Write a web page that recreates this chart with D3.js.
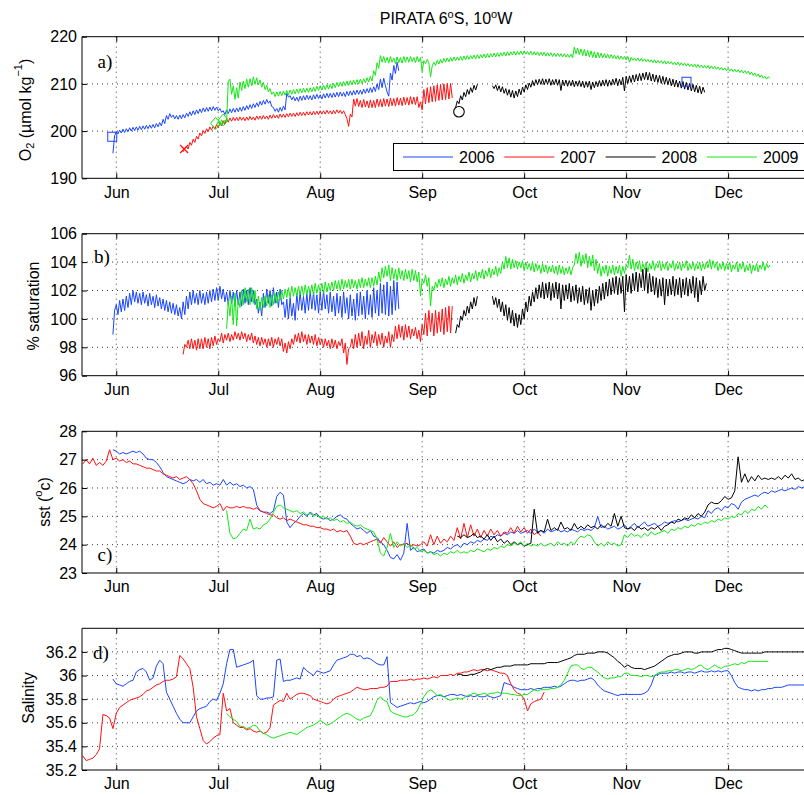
<!DOCTYPE html>
<html>
<head>
<meta charset="utf-8">
<script src="https://cdn.jsdelivr.net/npm/d3@7"></script>
<style>
  body { margin: 0; background: #fff; }
  svg { display: block; }
</style>
</head>
<body>
<svg id="chart" width="804" height="795"></svg>
<script>
// ---------------------------------------------------------------
// PIRATA 6°S, 10°W mooring: O2, O2 saturation, SST and salinity
// Time axis: days counted from 1 June; month ticks every 30.5 days
// ---------------------------------------------------------------
const years = ["2006", "2007", "2008", "2009"];
const monthTickDays = [0, 30.5, 61, 91.5, 122, 152.5, 183];
const monthLabels = ["Jun", "Jul", "Aug", "Sep", "Oct", "Nov", "Dec"];

const o2Ticks = [190, 200, 210, 220];
const satTicks = [96, 98, 100, 102, 104, 106];
const sstTicks = [23, 24, 25, 26, 27, 28];
const salTicks = [35.2, 35.4, 35.6, 35.8, 36, 36.2];

// ---- a) dissolved oxygen (µmol/kg), half-day samples ----
const o2Start = [-1, 20, 101.5, 30];
const o2_2006 = [
  195.3,199.0, 199.9,199.4, 200.2,199.6, 200.4,199.7, 200.5,199.9, 200.7,200.0, 200.8,200.1, 200.9,200.2, 201.0,200.3, 201.1,200.4,
  201.2,200.5, 201.3,200.6, 201.4,200.7, 201.6,200.9, 201.8,201.1, 202.5,201.6, 203.3,202.5, 203.7,202.9, 203.4,202.6, 203.3,202.5,
  203.4,202.6, 203.5,202.8, 203.8,203.1, 204.1,203.3, 204.3,203.5, 204.5,203.7, 204.7,203.9, 204.9,204.1, 205.0,204.2, 205.1,204.3,
  205.2,204.4, 205.1,204.3, 204.8,204.0, 204.3,203.5, 204.5,203.7, 204.7,203.9, 204.8,204.0, 204.9,204.1, 205.0,204.2, 205.2,204.4,
  205.4,204.6, 205.6,204.8, 205.8,205.0, 206.0,205.2, 206.3,205.5, 206.5,205.7, 206.7,205.9, 206.4,205.2, 205.0,204.2, 204.8,204.0,
  205.0,204.2, 205.3,204.5, 208.0,207.2, 207.5,206.6, 207.3,206.4, 207.2,206.3, 207.4,206.5, 207.5,206.6, 207.6,206.7, 207.5,206.6,
  207.7,206.8, 207.8,206.9, 207.7,206.8, 207.9,207.0, 208.0,207.1, 208.0,207.1, 208.1,207.2, 208.2,207.3, 208.3,207.4, 208.2,207.3,
  208.4,207.5, 208.5,207.6, 208.6,207.7, 208.7,207.8, 208.7,207.8, 208.9,208.0, 209.0,208.1, 209.2,208.2, 209.4,208.4, 210.0,208.8,
  211.0,209.2, 211.2,209.6, 208.3,207.4, 212.3,210.8, 213.9,212.2, 214.6,212.8
];
const o2_2007 = [
  195.6,196.3, 196.8,196.2, 197.6,197.0, 198.3,197.6, 198.9,198.3, 199.6,199.0, 200.1,199.5, 200.5,199.9, 200.9,200.2, 201.1,200.4,
  201.4,200.7, 201.8,201.1, 202.2,201.5, 202.6,201.9, 202.8,202.1, 202.9,202.2, 202.9,202.2, 203.0,202.3, 202.9,202.2, 203.0,202.3,
  203.1,202.4, 203.0,202.3, 203.2,202.5, 203.2,202.5, 203.3,202.6, 203.2,202.5, 203.4,202.7, 203.5,202.8, 203.4,202.7, 203.6,202.9,
  203.6,202.9, 203.7,203.0, 203.8,203.1, 203.8,203.1, 203.9,203.2, 204.0,203.3, 204.0,203.3, 204.1,203.4, 204.1,203.4, 204.2,203.5,
  204.2,203.5, 204.3,203.6, 204.3,203.6, 204.4,203.7, 204.3,203.6, 204.4,203.7, 204.5,203.8, 204.4,203.7, 204.3,203.5, 202.6,201.0,
  203.6,203.0, 206.8,205.3, 206.9,205.2, 206.5,205.0, 206.7,205.1, 206.4,204.9, 206.6,205.0, 206.5,205.0, 206.8,205.2, 206.7,205.1,
  206.9,205.3, 206.8,205.2, 207.0,205.4, 206.9,205.3, 207.1,205.5, 207.0,205.4, 207.2,205.6, 207.1,205.5, 207.3,205.7, 207.2,205.6,
  207.3,205.0, 206.2,204.5, 208.8,205.8, 209.2,206.0, 209.4,206.2, 209.6,206.3, 209.8,206.5, 209.9,206.6, 210.0,206.7, 210.1,206.8,
  210.1,207.0
];
const o2_2008 = [
  205.0, 206.4,205.8, 207.5,206.6, 208.2,207.3, 208.8,207.8, 209.2,208.2, 209.7,208.7, 209.9,
  null,null,null,null,null,null,null,null,
  209.6,
  209.0,209.8, 208.6,209.6, 208.3,209.4, 208.0,209.0, 207.6,208.8, 207.2,208.6, 207.0,208.5, 207.3,208.9, 207.7,209.3, 208.3,209.8,
  208.8,210.2, 209.3,210.7, 209.6,210.9, 209.8,211.0, 209.9,211.1, 209.8,211.0, 209.9,211.1, 209.7,210.9, 209.8,211.0, 209.7,210.9,
  208.6,210.8, 209.6,210.8, 209.5,210.7, 209.6,210.8, 209.4,210.6, 209.5,210.7, 209.4,210.6, 209.2,210.5, 209.3,210.6, 208.8,210.4,
  209.2,210.5, 209.4,210.7, 209.5,210.8, 209.6,210.9, 209.5,210.8, 209.7,211.0, 209.8,211.2, 209.6,211.0, 209.8,211.4, 208.5,211.6,
  210.1,211.7, 210.3,211.9, 210.4,212.0, 210.6,212.2, 210.7,212.3, 210.9,212.5, 210.8,212.4, 210.6,212.1, 210.4,211.9, 210.3,211.8,
  210.1,211.6, 209.9,211.4, 209.8,211.2, 209.6,211.0, 209.4,210.8, 209.3,210.6, 209.1,210.5, 208.9,210.3, 208.7,210.1, 208.5,209.9,
  208.3,209.7, 208.1,209.5, 207.9,209.3, 208.2
];
const o2_2009 = [
  201.3,202.0, 201.2,202.4, 201.6,202.3, 202.0,210.6, 211.0,207.8, 209.6,206.7, 209.2,207.0, 210.4,208.6, 210.6,209.0, 211.0,209.3,
  211.1,209.6, 211.5,209.9, 211.3,209.8, 210.8,209.3, 210.3,208.8, 209.7,208.3, 209.0,207.8, 208.3,207.3, 208.3,207.4, 208.4,207.5,
  208.5,207.6, 208.6,207.7, 208.7,207.8, 208.8,207.9, 208.9,208.0, 209.0,208.1, 209.1,208.2, 209.1,208.2, 209.2,208.3, 209.3,208.4,
  209.5,208.6, 209.6,208.7, 209.7,208.8, 209.8,208.9, 209.9,209.0, 210.1,209.2, 210.3,209.4, 210.4,209.5, 210.5,209.6, 210.6,209.7,
  210.7,209.8, 210.8,209.9, 210.9,210.0, 211.0,210.1, 211.1,210.2, 211.3,210.4, 211.6,210.6, 212.8,211.8, 214.5,213.3, 216.0,214.6,
  215.8,214.5, 215.6,214.4, 215.8,214.6, 215.5,214.3, 215.7,214.5, 215.6,214.4, 215.8,214.6, 215.7,214.6, 215.8,214.7, 215.6,214.5,
  215.8,214.7, 215.6,212.6, 214.9,214.3, 215.2,214.4, 211.5,213.8, 214.6,213.9, 215.0,214.2, 215.2,214.4, 215.4,214.6, 215.5,214.7,
  215.6,214.8, 215.7,214.9, 215.7,215.0, 215.8,215.0, 215.9,215.1, 216.0,215.2, 216.0,215.3, 216.1,215.3, 216.2,215.4, 216.2,215.5,
  216.3,215.5, 216.4,215.6, 216.4,215.7, 216.5,215.7, 216.6,215.8, 216.6,215.9, 216.7,215.9, 216.8,216.0, 216.8,216.1, 216.9,216.1,
  216.9,216.2, 217.0,216.2, 217.0,216.3, 216.9,216.2, 216.9,216.1, 216.8,216.1, 216.8,216.0, 216.7,216.0, 216.7,215.9, 216.6,215.9,
  216.6,215.8, 216.5,215.8, 216.5,215.8, 216.4,215.7, 216.4,215.7, 216.3,215.6, 216.3,215.5, 217.8,216.4, 217.6,216.2, 217.4,216.0,
  217.3,215.9, 217.1,215.7, 217.0,215.6, 216.8,215.5, 216.7,215.5, 216.5,215.5, 216.4,215.5, 216.3,215.4, 216.2,215.4, 216.1,215.3,
  216.0,215.2, 215.9,215.2, 215.8,215.1, 215.8,214.6, 215.6,215.0, 215.5,214.9, 215.5,214.8, 215.4,214.8, 215.3,214.7, 215.2,214.6,
  215.1,214.5, 215.1,214.4, 215.0,214.4, 214.9,214.3, 214.9,214.2, 214.8,214.2, 214.7,214.1, 214.6,214.0, 214.6,213.9, 214.5,213.9,
  214.4,213.8, 214.3,213.7, 214.2,213.6, 214.2,213.5, 214.1,213.5, 214.0,213.4, 213.9,213.3, 213.9,213.2, 213.8,213.2, 213.7,213.1,
  213.6,213.0, 213.5,212.9, 213.4,212.8, 213.3,212.7, 213.2,212.6, 213.1,212.5, 213.0,212.4, 212.9,212.3, 212.8,212.2, 212.7,212.0,
  212.5,211.8, 212.3,211.6, 212.1,211.4, 211.9,211.2, 211.6,211.0, 211.5,211.2
];

// Calibration samples drawn as markers on panel a)
const markerDays   = [-1.2, 20.3, 29.7, 32.0, 102.5, 170.55];
const markerValues = [198.8, 196.2, 201.65, 202.35, 204.1, 210.45];
const markerYear   = [0, 1, 3, 3, 2, 0];
const markerShape  = ["square", "cross", "diamond", "diamond", "circle", "square"];

// ---- b) oxygen saturation (%), half-day samples ----
const satStart = [-1, 20, 101.5, 33];
const sat_2006 = [
  98.9,100.6, 101.0,100.3, 101.3,100.5, 101.4,100.6, 101.6,100.8, 101.8,101.0, 102.0,101.2, 101.9,101.1, 101.8,101.0, 101.9,101.1,
  101.7,100.9, 101.8,101.0, 101.6,100.8, 101.7,100.9, 101.5,100.7, 101.4,100.6, 101.3,100.5, 101.2,100.4, 101.1,100.3, 101.0,100.2,
  100.8,100.0, 101.2,100.3, 101.6,100.7, 101.9,101.0, 102.0,101.1, 101.8,101.0, 102.0,101.1, 101.8,101.0, 101.9,101.1, 102.0,101.2,
  102.1,101.3, 102.2,101.3, 102.3,101.4, 102.1,101.2, 101.9,101.0, 102.0,101.1, 101.9,100.9, 102.0,101.0, 101.9,100.9, 102.1,101.1,
  102.0,101.0, 102.2,101.2, 102.0,101.0, 101.4,100.4, 101.2,100.2, 101.8,100.8, 102.1,101.1, 102.0,100.9, 102.2,101.1, 101.9,100.8,
  102.1,101.0, 101.2,100.1, 101.4,100.0, 101.5,100.2, 101.1,99.9, 101.8,100.6, 101.9,100.6, 101.6,100.4, 101.8,100.6, 102.0,100.7,
  101.9,100.6, 101.7,100.4, 101.9,100.6, 102.0,100.7, 101.7,100.4, 101.9,100.5, 101.6,100.2, 101.8,100.4, 101.6,100.1, 101.9,100.4,
  101.5,100.0, 101.7,100.2, 101.4,99.9, 101.8,100.2, 101.9,100.3, 101.6,100.0, 102.0,100.3, 101.7,100.1, 102.2,100.4, 102.0,100.2,
  102.5,100.4, 102.4,100.3, 102.6,100.2, 102.3,100.3, 102.7,100.6, 102.6,100.7
];
const sat_2007 = [
  97.5,98.2, 98.0,98.5, 97.9,98.6, 97.9,98.5, 97.8,98.6, 97.9,98.6, 97.9,98.7, 98.0,98.6, 97.9,98.7, 98.1,98.8,
  98.2,98.6, 98.4,99.0, 98.3,98.9, 98.5,99.0, 98.4,98.9, 98.5,99.1, 98.6,99.0, 98.5,99.1, 98.6,99.0, 98.4,98.9,
  98.5,99.0, 98.3,98.8, 98.2,98.7, 98.1,98.7, 98.2,98.6, 98.0,98.6, 98.1,98.7, 98.0,98.6, 98.2,98.7, 98.1,98.6,
  97.7,98.3, 97.6,98.4, 97.9,98.6, 98.2,98.9, 98.4,99.0, 98.3,99.1, 98.4,98.9, 98.2,98.9, 98.3,98.8, 98.2,98.9,
  98.1,98.7, 98.2,98.6, 98.0,98.6, 98.1,98.5, 97.9,98.6, 98.0,98.5, 97.9,98.4, 98.1,98.6, 97.6,98.3, 96.8,97.9,
  98.0,98.6, 97.9,98.9, 98.0,99.0, 98.1,99.1, 97.9,98.8, 98.2,99.2, 98.0,98.9, 98.3,99.1, 98.1,98.9, 98.2,99.0,
  98.0,98.8, 98.3,99.1, 98.0,98.9, 98.4,99.5, 98.6,99.6, 98.7,99.5, 98.5,99.6, 98.7,99.5, 98.6,99.3, 98.8,99.4,
  98.6,99.2, 98.4,99.6, 98.9,100.4, 98.8,100.6, 99.1,100.4, 98.8,100.6, 99.0,100.5, 99.1,100.7, 98.9,100.8, 99.1,100.9,
  99.0,100.9
];
const sat_2008 = [
  99.0, 99.6,99.4, 100.2,99.9, 100.6,100.2, 100.9,100.4, 101.2,100.7, 101.5,100.9, 101.6,
  null,null,null,null,null,null,null,null,
  101.6,
  101.0,101.5, 100.8,101.4, 100.5,101.2, 100.2,101.0, 99.9,100.8, 99.7,100.6, 99.5,100.4, 99.4,100.3, 99.6,100.7, 100.0,101.2,
  100.5,101.6, 100.9,101.9, 101.2,102.2, 101.4,102.4, 101.5,102.6, 101.4,102.5, 101.5,102.6, 101.3,102.5, 101.5,102.6, 101.4,102.5,
  100.7,102.4, 101.3,102.4, 101.4,102.5, 101.2,102.3, 101.3,102.4, 101.1,102.2, 101.2,102.3, 101.0,102.1, 101.1,102.2, 100.6,102.0,
  100.9,102.1, 101.1,102.3, 101.3,102.5, 101.4,102.6, 101.6,102.8, 101.7,102.9, 101.8,103.0, 101.7,102.9, 101.8,103.0, 100.5,103.1,
  101.9,103.0, 101.8,103.2, 102.0,103.3, 101.9,103.2, 102.2,103.5, 102.0,103.6, 101.8,103.2, 101.9,103.0, 101.7,102.9, 101.5,102.8,
  101.6,102.9, 101.0,102.8, 101.6,102.8, 101.7,103.0, 101.6,102.8, 101.7,102.9, 101.5,102.8, 101.7,102.9, 101.6,102.8, 101.8,103.0,
  101.5,102.9, 101.2,102.7, 101.7,103.0, 102.0,102.5
];
const sat_2009 = [
  99.3,101.3, 100.2,101.6, 99.6,101.8, 99.5,101.4, 100.8,102.0, 101.0,102.2, 101.2,102.1, 101.0,102.2, 101.1,102.0, 100.7,101.6,
  100.6,101.5, 100.8,101.6, 100.9,101.7, 100.8,101.7, 101.0,101.8, 101.1,101.9, 101.3,102.0, 101.4,102.1, 101.5,102.2, 101.5,102.3,
  101.6,102.2, 101.6,102.3, 101.7,102.3, 101.6,102.4, 101.7,102.3, 101.8,102.4, 101.7,102.5, 101.8,102.4, 101.9,102.5, 101.8,102.6,
  101.9,102.5, 102.0,102.6, 102.0,102.7, 102.1,102.7, 102.0,102.8, 102.1,102.7, 102.2,102.8, 102.1,102.8, 102.2,102.7, 102.1,102.8,
  102.2,102.9, 102.2,102.8, 102.3,102.9, 102.2,102.9, 102.3,103.0, 102.4,103.3, 102.6,103.6, 102.9,103.7, 103.0,103.8, 102.7,103.6,
  102.8,103.5, 102.7,103.6, 102.8,103.4, 102.7,103.5, 102.8,103.4, 102.6,103.5, 102.7,103.4, 102.6,103.3, 101.6,102.8, 102.5,103.1,
  102.3,102.9, 100.9,102.3, 102.0,102.6, 102.2,102.8, 102.3,102.9, 102.2,102.8, 102.4,103.0, 102.3,102.9, 102.5,103.1, 102.4,103.0,
  102.6,103.2, 102.5,103.1, 102.7,103.3, 102.6,103.2, 102.8,103.4, 102.7,103.3, 102.9,103.5, 102.8,103.4, 103.0,103.6, 102.9,103.5,
  103.1,103.7, 103.0,103.6, 103.2,104.0, 103.5,104.4, 103.6,104.3, 103.5,104.2, 103.6,104.1, 103.5,104.0, 103.6,104.1, 103.4,104.0,
  103.5,103.9, 103.4,104.0, 103.3,103.9, 103.4,103.8, 103.2,103.9, 103.3,103.8, 103.2,103.7, 103.3,103.8, 103.2,103.7, 103.1,103.8,
  103.2,103.7, 103.1,103.6, 103.2,103.7, 103.1,103.6, 103.8,104.6, 103.9,104.7, 103.7,104.5, 103.9,104.6, 103.6,104.4, 103.7,104.5,
  103.4,104.2, 103.2,103.9, 103.0,103.7, 103.2,103.8, 103.0,103.7, 103.2,103.8, 103.1,103.7, 103.2,103.8, 103.0,103.7, 103.2,103.8,
  103.6,104.5, 103.5,104.2, 103.4,104.0, 103.5,104.1, 103.3,103.9, 103.5,104.0, 103.3,103.9, 103.5,104.1, 103.4,103.9, 103.6,104.1,
  103.4,103.9, 103.5,104.0, 103.4,103.9, 103.6,104.1, 103.4,103.9, 103.5,104.0, 103.4,103.9, 103.6,104.1, 103.4,103.9, 103.5,104.0,
  103.4,103.9, 103.5,104.0, 103.4,103.9, 103.5,104.0, 103.6,104.2, 103.5,104.1, 103.6,104.0, 103.4,103.9, 103.5,104.0, 103.4,103.9,
  103.5,104.0, 103.3,103.8, 103.5,104.0, 103.3,103.9, 103.5,104.0, 103.3,103.8, 103.4,103.9, 103.2,103.8, 103.4,103.9, 103.3,103.8,
  103.5,104.0, 103.4,103.9, 103.6,103.8
];

// ---- c) sea surface temperature (°C), daily samples ----
const sstStart = [-1, -10, 102, 33];
const sst_2006 = [
  27.35,
  27.3,27.2,27.25,27.2,27.25,27.3,27.25,27.3,27.2,27.05,
  27.0,27.0,26.9,26.75,26.55,26.4,26.35,26.3,26.25,26.2,
  26.15,26.2,26.3,26.25,26.3,26.2,26.3,26.15,26.2,26.1,
  26.15,26.1,26.3,26.1,26.2,26.1,26.15,26.05,26.1,26.0,
  26.05,25.95,25.4,25.2,25.15,25.15,25.1,25.2,25.7,25.85,
  25.75,24.8,24.6,24.75,24.85,25.0,25.1,25.0,25.15,25.05,
  25.1,24.95,24.9,24.95,24.85,24.9,25.0,25.05,24.95,24.9,
  24.75,24.65,24.55,24.6,24.5,24.4,24.5,24.3,24.25,24.1,
  24.0,23.8,23.55,23.5,23.65,23.45,23.7,24.75,23.8,23.9,
  23.75,23.8,23.85,23.7,23.75,23.7,23.8,23.75,23.8,23.9,
  23.85,23.95,24.0,23.9,24.05,24.0,24.1,24.05,24.15,24.1,
  24.2,24.15,24.3,24.25,24.35,24.3,24.4,24.35,24.45,24.4,
  24.5,24.4,24.45,24.5,24.4,24.55,24.45,24.5,24.4,24.55,
  24.45,24.5,24.55,24.45,24.5,24.45,24.55,24.5,24.45,24.55,
  24.5,24.55,24.5,24.6,25.0,24.6,24.65,24.55,24.6,24.65,
  24.55,24.6,24.7,24.55,24.65,24.75,24.6,24.7,24.8,24.65,
  24.7,24.75,24.65,24.7,24.8,24.75,24.8,24.85,24.8,24.85,
  24.9,24.85,24.9,24.95,24.9,25.0,24.95,25.2,25.1,25.25,
  25.3,25.2,25.35,25.3,25.45,25.4,25.25,25.5,25.6,25.65,
  25.7,25.75,25.7,25.8,25.85,25.8,25.9,25.85,25.9,25.95,
  25.9,25.95,26.0,25.95,26.05,26.0,26.05
];
const sst_2007 = [
  26.85,27.0,26.85,27.05,26.8,26.9,26.8,26.95,27.35,27.0,
  27.05,26.95,27.0,26.9,26.95,26.85,26.85,26.8,26.75,26.7,
  26.7,26.65,26.6,26.6,26.5,26.45,26.4,26.35,26.4,26.3,
  26.35,26.4,26.3,26.15,25.9,25.6,25.45,25.4,25.35,25.3,
  25.35,25.45,25.2,25.35,25.3,25.3,25.35,25.3,25.35,25.3,
  25.3,25.25,25.3,25.2,25.15,25.1,25.05,25.05,24.95,24.9,
  24.95,24.85,24.9,24.85,24.8,24.75,24.7,24.7,24.65,24.65,
  24.6,24.6,24.55,24.55,24.5,24.55,24.45,24.5,24.45,24.5,
  24.3,24.05,24.0,24.05,24.0,24.05,24.1,24.15,24.2,24.05,
  24.25,24.1,23.95,24.1,23.9,24.0,24.0,24.05,23.95,24.0,
  23.95,24.0,24.1,23.95,24.35,24.0,24.3,24.05,24.2,24.1,
  24.3,24.15,24.6,24.2,24.75,24.25,24.7,24.3,24.55,24.25,
  24.5,24.3,24.55,24.35,24.5,24.3,24.45,24.4,24.6,24.4,
  24.65,24.45,24.6,24.4,24.55,24.35,24.45,24.3
];
const sst_2008 = [
  24.3,24.25,24.35,24.25,24.3,24.4,24.25,24.3,
  24.2,24.35,24.15,24.3,24.1,24.2,24.05,24.15,24.0,24.1,
  24.0,24.05,23.95,24.0,24.05,25.25,24.4,24.5,24.45,24.9,
  24.5,24.6,24.5,24.8,24.55,24.6,24.5,24.75,24.55,24.65,
  24.55,24.7,24.6,24.65,24.55,24.7,24.6,24.75,24.65,25.1,
  24.65,25.0,24.6,24.55,24.6,24.5,24.65,24.55,24.6,24.5,
  24.6,24.55,24.65,24.5,24.65,24.7,24.8,24.75,24.9,24.85,
  24.95,24.9,25.05,24.95,25.1,25.0,25.15,25.4,25.5,25.45,
  25.45,25.55,25.7,25.6,25.65,25.9,27.1,26.2,26.5,26.2,
  26.4,26.25,26.45,26.3,26.35,26.3,26.35,26.3,26.4,26.3,
  26.45,26.35,26.5,26.3,26.35,26.25,26.3
];
const sst_2009 = [
  25.2,24.4,24.2,24.25,24.4,24.55,24.5,
  24.9,24.55,24.6,24.55,24.7,24.75,24.9,25.15,25.35,25.4,
  25.3,25.25,25.2,25.15,25.2,25.1,25.15,25.05,25.1,25.0,
  25.05,24.95,25.0,24.9,24.95,24.85,24.9,24.8,24.85,24.75,
  24.8,24.7,24.65,24.7,24.6,24.55,24.5,24.45,24.2,23.7,
  23.6,23.9,24.4,23.9,24.1,23.95,24.05,23.9,24.0,23.85,
  23.9,23.75,23.8,23.7,23.75,23.65,23.7,23.6,23.7,23.65,
  23.75,23.7,23.8,23.7,23.75,23.7,23.8,23.75,23.85,23.8,
  23.75,23.85,23.8,23.9,23.85,23.95,23.9,24.0,23.95,24.05,
  24.0,24.1,23.95,24.05,23.95,24.0,23.95,24.05,23.95,24.0,
  24.05,23.95,24.1,24.0,24.05,23.95,24.1,24.0,24.2,24.3,
  24.25,24.35,24.3,24.1,23.95,24.05,23.95,24.1,24.0,24.05,
  23.95,24.0,24.35,24.25,24.4,24.3,24.35,24.25,24.4,24.3,
  24.45,24.35,24.4,24.45,24.5,24.4,24.55,24.5,24.6,24.55,
  24.65,24.6,24.7,24.65,24.75,24.7,24.8,24.75,24.85,24.8,
  24.9,24.85,24.95,24.9,25.0,24.95,25.1,25.05,25.2,25.1,
  25.25,25.2,25.35,25.25,25.4,25.3
];

// ---- d) salinity, daily samples ----
const salStart = [-1, -10, 102, 33];
const sal_2006 = [
  35.97,
  35.93,35.92,35.91,35.93,35.95,35.96,36.03,36.05,36.06,36.03,
  35.96,35.98,36.08,36.13,36.1,35.86,35.8,35.74,35.68,35.63,
  35.6,35.6,35.6,35.65,35.7,35.72,35.73,35.74,35.78,35.8,
  35.79,35.85,35.93,36.1,36.22,36.22,36.07,36.08,36.09,36.1,
  36.11,36.13,35.83,35.8,35.8,35.81,35.81,35.82,36.13,36.14,
  35.95,35.96,35.96,35.97,35.98,35.97,36.07,36.04,36.02,36.0,
  36.04,36.03,36.02,36.03,36.04,36.09,36.13,36.14,36.15,36.16,
  36.18,36.18,36.16,36.17,36.14,36.15,36.14,36.12,36.1,36.09,
  36.09,36.16,35.77,35.75,35.73,35.74,35.75,35.76,35.77,35.76,
  35.77,35.78,35.77,35.78,35.8,35.82,35.83,35.83,35.82,35.83,
  35.84,35.84,35.83,35.84,35.83,35.82,35.83,35.82,35.83,35.82,
  35.82,35.83,35.82,35.81,35.82,35.83,35.94,35.93,35.92,35.9,
  35.89,35.88,35.88,35.88,35.89,35.88,35.89,35.89,35.9,35.9,
  35.9,35.91,35.9,35.91,35.93,35.95,35.96,35.96,35.95,35.96,
  35.96,35.97,35.98,35.96,35.92,35.89,35.87,35.86,35.85,35.84,
  35.83,35.84,35.84,35.84,35.84,35.84,35.84,35.84,35.85,35.87,
  35.92,36.0,36.01,36.02,36.02,36.02,36.03,36.02,36.03,36.03,
  36.02,36.03,36.03,36.02,36.03,36.04,36.03,36.03,36.04,36.03,
  36.04,36.03,36.04,36.04,36.0,35.94,35.9,35.89,35.88,35.88,
  35.87,35.88,35.87,35.88,35.88,35.89,35.89,35.9,35.9,35.9,
  35.91,35.92,35.92,35.92,35.92,35.92,35.92
];
const sal_2007 = [
  35.32,35.28,35.29,35.3,35.33,35.38,35.67,35.66,35.64,35.55,
  35.68,35.73,35.75,35.77,35.79,35.8,35.81,35.82,35.84,35.87,
  35.88,35.9,35.92,35.93,35.95,35.96,35.96,35.97,35.99,36.17,
  36.14,36.1,36.06,35.9,35.65,35.55,35.45,35.42,35.44,35.47,
  35.49,35.5,35.85,35.7,35.72,35.6,35.58,35.56,35.56,35.54,
  35.55,35.53,35.52,35.53,35.51,35.52,35.56,35.75,35.77,35.79,
  35.78,35.85,35.8,35.82,35.84,35.85,35.85,35.84,35.83,35.8,
  35.79,35.78,35.77,35.76,35.77,35.8,35.82,35.83,35.84,35.85,
  35.86,35.88,35.9,35.89,35.88,35.88,35.89,35.89,35.89,35.9,
  35.9,35.91,35.95,35.95,35.95,35.96,35.96,35.96,35.97,35.96,
  35.97,35.97,35.98,35.97,35.98,35.99,35.98,36.0,36.0,36.0,
  36.01,36.0,36.02,36.02,36.03,36.03,36.04,36.05,36.04,36.05,
  36.05,36.04,36.05,36.04,36.03,36.02,36.02,36.0,35.93,35.88,
  35.85,35.84,35.8,35.7,35.76,35.78,35.79,35.8,35.86
];
const sal_2008 = [
  36.01,36.01,36.0,36.0,36.01,36.01,36.02,36.03,
  36.05,36.06,36.05,36.06,36.07,36.07,36.08,36.08,36.08,36.09,
  36.09,36.09,36.09,36.09,36.1,36.1,36.1,36.1,36.1,36.11,
  36.11,36.11,36.11,36.12,36.13,36.14,36.15,36.17,36.18,36.18,
  36.18,36.19,36.19,36.19,36.2,36.2,36.2,36.19,36.17,36.15,
  36.12,36.1,36.07,36.09,36.07,36.06,36.06,36.06,36.05,36.06,
  36.07,36.08,36.1,36.12,36.14,36.16,36.17,36.18,36.18,36.19,
  36.2,36.2,36.2,36.19,36.19,36.2,36.2,36.2,36.2,36.21,
  36.22,36.22,36.23,36.23,36.22,36.21,36.2,36.19,36.19,36.19,
  36.19,36.19,36.19,36.19,36.2,36.2,36.2,36.2,36.2,36.2,
  36.2,36.2,36.2,36.2,36.2,36.2,36.2
];
const sal_2009 = [
  35.68,35.65,35.63,35.61,35.57,35.57,35.55,
  35.56,35.58,35.57,35.53,35.51,35.5,35.48,35.47,35.48,35.49,
  35.5,35.51,35.52,35.51,35.5,35.52,35.54,35.56,35.57,35.58,
  35.6,35.62,35.6,35.58,35.59,35.61,35.63,35.65,35.67,35.68,
  35.67,35.65,35.63,35.62,35.64,35.65,35.66,35.72,35.79,35.82,
  35.79,35.78,35.7,35.68,35.67,35.66,35.65,35.65,35.66,35.67,
  35.7,35.76,35.82,35.86,35.88,35.86,35.83,35.84,35.82,35.8,
  35.79,35.8,35.81,35.8,35.81,35.83,35.84,35.85,35.84,35.84,
  35.85,35.84,35.85,35.85,35.86,35.85,35.85,35.85,35.84,35.84,
  35.83,35.83,35.84,35.84,35.86,35.88,35.87,35.88,35.88,35.88,
  35.89,35.89,35.9,35.92,35.96,36.02,36.08,36.09,36.09,36.06,
  36.05,36.07,36.07,36.05,36.03,36.0,35.98,35.97,35.98,35.98,
  35.99,35.99,36.02,36.02,36.0,36.0,36.0,35.99,36.0,36.0,
  35.99,36.0,36.02,36.03,36.03,36.04,36.04,36.05,36.05,36.04,
  36.05,36.06,36.05,36.06,36.08,36.09,36.06,36.05,36.07,36.09,
  36.07,36.06,36.08,36.08,36.09,36.1,36.09,36.11,36.1,36.12,
  36.12,36.12,36.12,36.12,36.12,36.12
];

// ---------------------------------------------------------------
// Drawing
// ---------------------------------------------------------------
const FONT = "'Liberation Sans', Arial, Helvetica, sans-serif";
const SERIF = "'Liberation Serif', 'Times New Roman', serif";
const yearColors = ["#1a45ff", "#ff1010", "#000000", "#12e812"];

const svg = d3.select("#chart");
const x = d3.scaleLinear().domain([-10.25, 206]).range([82, 805]);
const [xL, xR] = x.range();

const panels = [
  { id: "a", top: 36.7, bottom: 178.3, domain: [190, 220], ticks: o2Ticks,
    series: [o2_2006, o2_2007, o2_2008, o2_2009], starts: o2Start, step: 0.5,
    letter: "a)", letterPos: [105, 61] },
  { id: "b", top: 233.7, bottom: 375.7, domain: [96, 106], ticks: satTicks,
    series: [sat_2006, sat_2007, sat_2008, sat_2009], starts: satStart, step: 0.5,
    letter: "b)", letterPos: [102, 256] },
  { id: "c", top: 431.3, bottom: 573, domain: [23, 28], ticks: sstTicks,
    series: [sst_2006, sst_2007, sst_2008, sst_2009], starts: sstStart, step: 1,
    letter: "c)", letterPos: [105, 554] },
  { id: "d", top: 628.3, bottom: 770, domain: [35.2, 36.4], ticks: salTicks,
    series: [sal_2006, sal_2007, sal_2008, sal_2009], starts: salStart, step: 1,
    letter: "d)", letterPos: [101, 652] }
];

function styleAxis(sel) {
  sel.attr("font-family", FONT).attr("font-size", 16);
  sel.select(".domain").remove();
  sel.selectAll(".tick line").attr("stroke", "#000");
  sel.selectAll(".tick text").attr("fill", "#000");
}

panels.forEach(p => {
  const y = d3.scaleLinear().domain(p.domain).range([p.bottom, p.top]);
  p.y = y;
  const g = svg.append("g").attr("class", "panel-" + p.id);

  svg.append("clipPath").attr("id", "clip-" + p.id)
    .append("rect").attr("x", xL).attr("y", p.top)
    .attr("width", xR - xL).attr("height", p.bottom - p.top);

  // dotted grid
  const grid = g.append("g").attr("stroke", "#3a3a3a").attr("stroke-width", 1)
    .attr("stroke-dasharray", "1 4");
  grid.selectAll("line.v").data(monthTickDays).join("line").attr("class", "v")
    .attr("x1", d => x(d)).attr("x2", d => x(d))
    .attr("y1", p.top).attr("y2", p.bottom);
  grid.selectAll("line.h").data(p.ticks.filter(t => t > p.domain[0] && t < p.domain[1]))
    .join("line").attr("class", "h")
    .attr("x1", xL).attr("x2", xR)
    .attr("y1", d => y(d)).attr("y2", d => y(d));

  // one trace per deployment year
  const line = d3.line()
    .defined(d => d.v !== null)
    .x(d => x(d.day)).y(d => y(d.v));
  const traces = g.append("g").attr("clip-path", `url(#clip-${p.id})`);
  p.series.forEach((vals, i) => {
    const pts = vals.map((v, k) => ({ day: p.starts[i] + k * p.step, v }));
    traces.append("path")
      .attr("d", line(pts))
      .attr("fill", "none")
      .attr("stroke", yearColors[i])
      .attr("stroke-width", 1)
      .attr("stroke-linejoin", "round");
  });

  // frame (right side lies beyond the visible area)
  g.append("path")
    .attr("d", `M${xR},${p.top}H${xL}V${p.bottom}H${xR}`)
    .attr("fill", "none").attr("stroke", "#000").attr("stroke-width", 1);

  // axes with inward ticks
  g.append("g").attr("transform", `translate(0,${p.bottom})`)
    .call(d3.axisBottom(x).tickValues(monthTickDays)
      .tickFormat((d, i) => monthLabels[i]).tickSize(-5).tickPadding(8))
    .call(styleAxis);
  g.append("g").attr("transform", `translate(0,${p.top})`)
    .call(d3.axisTop(x).tickValues(monthTickDays).tickFormat("").tickSize(-5))
    .call(styleAxis);
  g.append("g").attr("transform", `translate(${xL},0)`)
    .call(d3.axisLeft(y).tickValues(p.ticks).tickFormat(d => String(d))
      .tickSize(-5).tickPadding(5))
    .call(styleAxis);

  // panel letter
  g.append("text")
    .attr("x", p.letterPos[0]).attr("y", p.letterPos[1])
    .attr("text-anchor", "middle").attr("dominant-baseline", "central")
    .attr("font-family", SERIF).attr("font-size", 19)
    .text(p.letter);
});

// ---- markers on panel a) ----
{
  const pa = panels[0];
  const mg = svg.append("g");
  markerDays.forEach((d, i) => {
    const cx = x(d), cy = pa.y(markerValues[i]);
    const col = yearColors[markerYear[i]];
    const shape = markerShape[i];
    if (shape === "square") {
      mg.append("rect").attr("x", cx - 4.5).attr("y", cy - 4.5)
        .attr("width", 9).attr("height", 9)
        .attr("fill", "none").attr("stroke", col).attr("stroke-width", 1);
    } else if (shape === "cross") {
      mg.append("path").attr("d", `M${cx-4},${cy-4}L${cx+4},${cy+4}M${cx-4},${cy+4}L${cx+4},${cy-4}`)
        .attr("stroke", col).attr("stroke-width", 1.2);
    } else if (shape === "diamond") {
      mg.append("path").attr("d", `M${cx},${cy-6}L${cx+5},${cy}L${cx},${cy+6}L${cx-5},${cy}Z`)
        .attr("fill", "none").attr("stroke", col).attr("stroke-width", 1);
    } else if (shape === "circle") {
      mg.append("circle").attr("cx", cx).attr("cy", cy).attr("r", 5.3)
        .attr("fill", "none").attr("stroke", col).attr("stroke-width", 1.1);
    }
  });
}

// ---- legend on panel a) ----
{
  const lg = svg.append("g").attr("font-family", FONT).attr("font-size", 16);
  lg.append("rect").attr("x", 393.5).attr("y", 143.5).attr("width", 420).attr("height", 27)
    .attr("fill", "#fff").attr("stroke", "#000").attr("stroke-width", 1);
  years.forEach((yr, i) => {
    const x0 = 403 + i * 101.3;
    lg.append("line").attr("x1", x0).attr("x2", x0 + 50).attr("y1", 157).attr("y2", 157)
      .attr("stroke", yearColors[i]).attr("stroke-width", 1);
    lg.append("text").attr("x", x0 + 56).attr("y", 163).attr("fill", "#000").text(yr);
  });
}

// ---- title ----
{
  const t = svg.append("text").attr("x", 446).attr("y", 24)
    .attr("text-anchor", "middle").attr("font-family", FONT).attr("font-size", 16);
  t.append("tspan").text("PIRATA 6");
  t.append("tspan").attr("dy", -6).attr("font-size", 11).text("o");
  t.append("tspan").attr("dy", 6).text("S, 10");
  t.append("tspan").attr("dy", -6).attr("font-size", 11).text("o");
  t.append("tspan").attr("dy", 6).text("W");
}

// ---- y-axis titles ----
function yTitle(cx, cy) {
  return svg.append("text")
    .attr("transform", `translate(${cx},${cy}) rotate(-90)`)
    .attr("text-anchor", "middle").attr("dominant-baseline", "central")
    .attr("font-family", FONT).attr("font-size", 16).attr("fill", "#000");
}
{
  const t = yTitle(25, 110);
  t.append("tspan").text("O");
  t.append("tspan").attr("dy", 5).attr("font-size", 11).text("2");
  t.append("tspan").attr("dy", -5).text(" (\u00b5mol kg");
  t.append("tspan").attr("dy", -7).attr("font-size", 11).text("\u22121");
  t.append("tspan").attr("dy", 7).text(")");
}
yTitle(33, 306).text("% saturation");
{
  const t = yTitle(44, 502);
  t.append("tspan").text("sst (");
  t.append("tspan").attr("dy", -6).attr("font-size", 11).text("o");
  t.append("tspan").attr("dy", 6).text("c)");
}
yTitle(28, 698).text("Salinity");
</script>
</body>
</html>
